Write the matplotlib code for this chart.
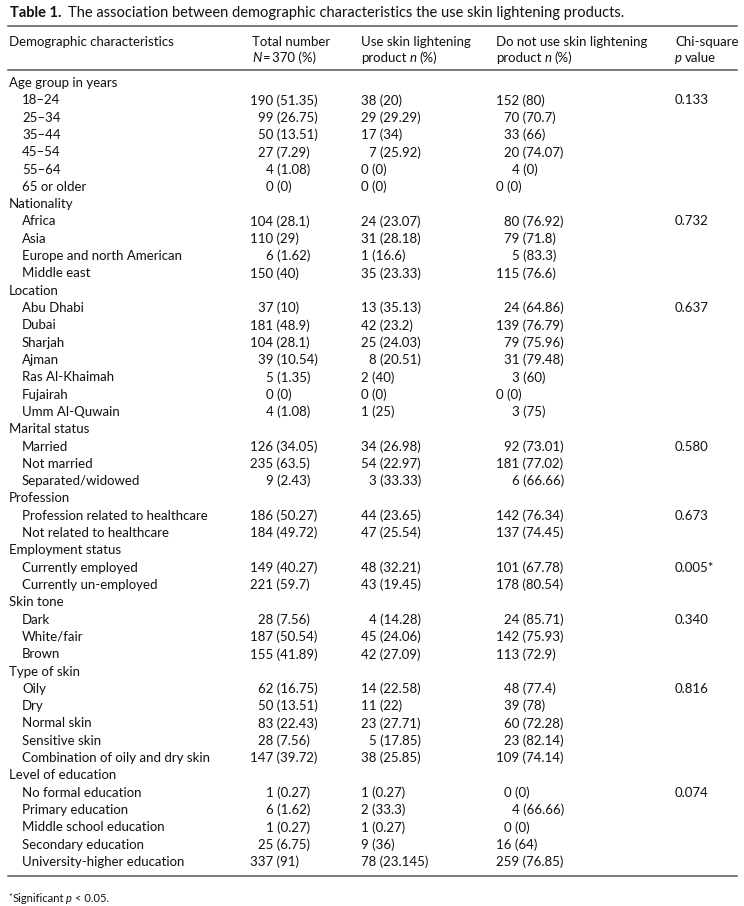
import matplotlib
matplotlib.use("Agg")
import matplotlib.pyplot as plt

# Table content
TITLE_BOLD = "Table 1."
TITLE_TEXT = "The association between demographic characteristics the use skin lightening products."

groups = ["Age group in years", "Nationality", "Location", "Marital status", "Profession",
          "Employment status", "Skin tone", "Type of skin", "Level of education"]

items = [
    ["18–24", "25–34", "35–44", "45–54", "55–64", "65 or older"],
    ["Africa", "Asia", "Europe and north American", "Middle east"],
    ["Abu Dhabi", "Dubai", "Sharjah", "Ajman", "Ras Al-Khaimah", "Fujairah", "Umm Al-Quwain"],
    ["Married", "Not married", "Separated/widowed"],
    ["Profession related to healthcare", "Not related to healthcare"],
    ["Currently employed", "Currently un-employed"],
    ["Dark", "White/fair", "Brown"],
    ["Oily", "Dry", "Normal skin", "Sensitive skin", "Combination of oily and dry skin"],
    ["No formal education", "Primary education", "Middle school education",
     "Secondary education", "University-higher education"],
]

total = ["190 (51.35)", "99 (26.75)", "50 (13.51)", "27 (7.29)", "4 (1.08)", "0 (0)",
         "104 (28.1)", "110 (29)", "6 (1.62)", "150 (40)",
         "37 (10)", "181 (48.9)", "104 (28.1)", "39 (10.54)", "5 (1.35)", "0 (0)", "4 (1.08)",
         "126 (34.05)", "235 (63.5)", "9 (2.43)",
         "186 (50.27)", "184 (49.72)",
         "149 (40.27)", "221 (59.7)",
         "28 (7.56)", "187 (50.54)", "155 (41.89)",
         "62 (16.75)", "50 (13.51)", "83 (22.43)", "28 (7.56)", "147 (39.72)",
         "1 (0.27)", "6 (1.62)", "1 (0.27)", "25 (6.75)", "337 (91)"]

use = ["38 (20)", "29 (29.29)", "17 (34)", "7 (25.92)", "0 (0)", "0 (0)",
       "24 (23.07)", "31 (28.18)", "1 (16.6)", "35 (23.33)",
       "13 (35.13)", "42 (23.2)", "25 (24.03)", "8 (20.51)", "2 (40)", "0 (0)", "1 (25)",
       "34 (26.98)", "54 (22.97)", "3 (33.33)",
       "44 (23.65)", "47 (25.54)",
       "48 (32.21)", "43 (19.45)",
       "4 (14.28)", "45 (24.06)", "42 (27.09)",
       "14 (22.58)", "11 (22)", "23 (27.71)", "5 (17.85)", "38 (25.85)",
       "1 (0.27)", "2 (33.3)", "1 (0.27)", "9 (36)", "78 (23.145)"]

not_use = ["152 (80)", "70 (70.7)", "33 (66)", "20 (74.07)", "4 (0)", "0 (0)",
           "80 (76.92)", "79 (71.8)", "5 (83.3)", "115 (76.6)",
           "24 (64.86)", "139 (76.79)", "79 (75.96)", "31 (79.48)", "3 (60)", "0 (0)", "3 (75)",
           "92 (73.01)", "181 (77.02)", "6 (66.66)",
           "142 (76.34)", "137 (74.45)",
           "101 (67.78)", "178 (80.54)",
           "24 (85.71)", "142 (75.93)", "113 (72.9)",
           "48 (77.4)", "39 (78)", "60 (72.28)", "23 (82.14)", "109 (74.14)",
           "0 (0)", "4 (66.66)", "0 (0)", "16 (64)", "259 (76.85)"]

p_values = ["0.133", "0.732", "0.637", "0.580", "0.673", "0.005*", "0.340", "0.816", "0.074"]

# Typesetting: leading figure-space padding used in the original (in digit widths)
use_pad = [0, 0, 0, 1, 0, 0, 0, 0, 0, 0, 0, 0, 0, 1, 0, 0, 0, 0, 0, 1,
           0, 0, 0, 0, 1, 0, 0, 0, 0, 0, 1, 0, 0, 0, 0, 0, 0]
not_use_pad = [0, 1, 1, 1, 2, 0, 1, 1, 2, 0, 1, 0, 1, 1, 2, 0, 2, 1, 0, 2,
               0, 0, 0, 0, 1, 0, 0, 1, 1, 1, 1, 0, 1, 2, 1, 0, 0]

# Layout (pixels)
W, H = 744, 906
FONT = "Lato"
FS = 9.5
TITLE_FS = 10.55
FN_FS = 8.0
COLOR = "#111111"
RULE = "#555555"
X_LABEL, X_ITEM = 9, 22
X_TOTAL, X_USE, X_NOT, X_P = 250, 361, 496, 675
PAD_UNIT = 8.0
Y_FIRST, ROW_H = 83, 17.31

fig = plt.figure(figsize=(W / 100, H / 100), dpi=100)
ax = fig.add_axes([0, 0, 1, 1])
ax.set_xlim(0, W)
ax.set_ylim(H, 0)
ax.axis("off")
renderer = fig.canvas.get_renderer()


def put(x, y, s, **kw):
    opts = dict(fontsize=FS, family=FONT, color=COLOR, va="center", ha="left")
    opts.update(kw)
    return ax.text(x, y, s, **opts)


def width(t):
    return t.get_window_extent(renderer).width


def runs(x, y, parts):
    # parts: list of (text, kwargs, gap after)
    for s, kw, gap in parts:
        t = put(x, y, s, **kw)
        x += width(t) + gap
    return x


# Title
runs(10, 13, [(TITLE_BOLD, dict(weight="bold", fontsize=TITLE_FS), 6),
              (TITLE_TEXT, dict(fontsize=TITLE_FS), 0)])

# Rules
for y_rule in (26, 70, 876):
    ax.plot([8, 737], [y_rule, y_rule], color=RULE, lw=1.1)

# Header
put(X_LABEL, 42, "Demographic characteristics")
put(X_TOTAL + 2, 42, "Total number")
runs(X_TOTAL + 2, 58, [("N", dict(style="italic"), 1.5), ("=", {}, 1.5), ("370 (%)", {}, 0)])
put(X_USE, 42, "Use skin lightening")
runs(X_USE, 58, [("product", {}, 3), ("n", dict(style="italic"), 3), ("(%)", {}, 0)])
put(X_NOT, 42, "Do not use skin lightening")
runs(X_NOT, 58, [("product", {}, 3), ("n", dict(style="italic"), 3), ("(%)", {}, 0)])
put(X_P, 42, "Chi-square")
runs(X_P, 58, [("p", dict(style="italic"), 3), ("value", {}, 0)])

# Body
row = 0
k = 0
for g, name in enumerate(groups):
    put(X_LABEL, Y_FIRST + row * ROW_H, name)
    row += 1
    for j, item in enumerate(items[g]):
        y = Y_FIRST + row * ROW_H
        put(X_ITEM, y, item)
        n_total = total[k].split(" ")[0]
        put(X_TOTAL + (3 - len(n_total)) * PAD_UNIT, y, total[k])
        put(X_USE + use_pad[k] * PAD_UNIT, y, use[k])
        put(X_NOT + not_use_pad[k] * PAD_UNIT, y, not_use[k])
        if j == 0:
            put(X_P, y, p_values[g])
        row += 1
        k += 1

# Footnote
x = runs(8, 897, [("*", dict(fontsize=FN_FS * 0.8), 0.5)])
runs(x, 899, [("Significant", dict(fontsize=FN_FS), 2.5),
              ("p", dict(fontsize=FN_FS, style="italic"), 2.5),
              ("< 0.05.", dict(fontsize=FN_FS), 0)])

fig.savefig("out.png", dpi=100)
